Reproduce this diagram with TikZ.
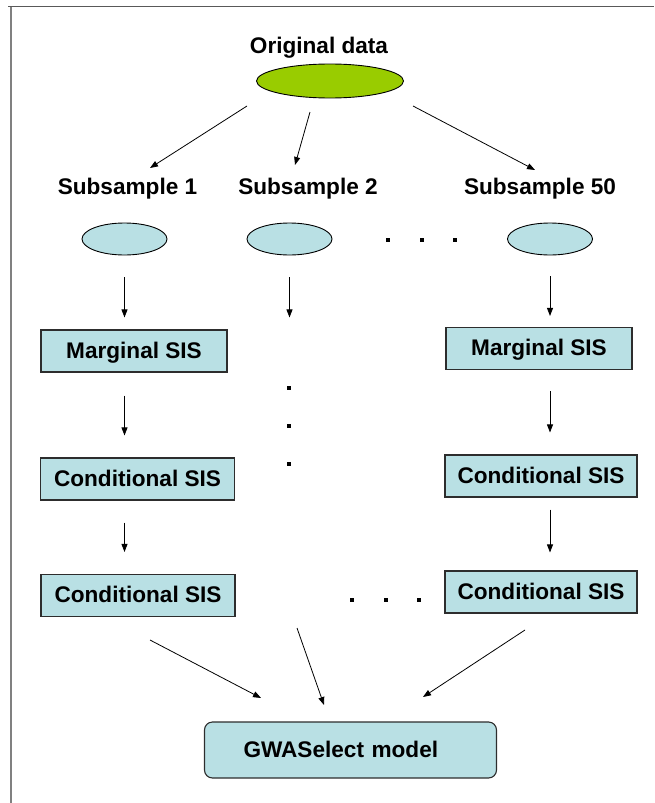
\documentclass[tikz,border=0pt]{standalone}
\usepackage{fontspec}
\setmainfont{Liberation Sans}
\usetikzlibrary{shapes.geometric,arrows.meta}

\definecolor{sisblue}{RGB}{185,224,228}
\definecolor{datagreen}{RGB}{153,204,0}
\definecolor{edgegray}{RGB}{45,45,45}

\tikzset{every picture/.style={line width=0.75pt}}
\tikzset{
  lbl/.style={font=\bfseries\fontsize{22.6}{27}\selectfont, inner sep=0pt},
  sisbox/.style={draw=edgegray, fill=sisblue, line width=1.1pt, inner sep=0pt,
    minimum height=42pt, text height=16pt, text depth=2pt,
    font=\bfseries\fontsize{22.6}{27}\selectfont},
  subell/.style={ellipse, draw=black, fill=sisblue, line width=0.9pt,
    minimum width=85pt, minimum height=32pt, inner sep=0pt},
  arr/.style={-{Triangle[length=8pt,width=6pt]}, line width=0.8pt},
  dot/.style={fill=black, minimum size=4pt, inner sep=0pt},
}

\begin{document}
\begin{tikzpicture}[x=1pt,y=1pt,yscale=-1,xscale=1]
	\useasboundingbox (0,0) rectangle (654,803);

	%Frame lines
	\draw [color=gray!70!black, line width=1.6pt] (8,6.5) -- (654,6.5) ;
	\draw [color=gray, line width=1.6pt] (11,6.5) -- (11,803) ;

	% Text Node
	\node [lbl, anchor=base] (odlab) at (319,53) {Original data};
	%Shape: Ellipse
	\node [ellipse, draw=black, fill=datagreen, line width=0.9pt, minimum width=147pt, minimum height=34pt, inner sep=0pt] (od) at (330,81) {};

	% Text Node
	\node [lbl, anchor=base] (s1lab) at (127.5,194) {Subsample 1};
	% Text Node
	\node [lbl, anchor=base] (s2lab) at (308,194) {Subsample 2};
	% Text Node
	\node [lbl, anchor=base] (s3lab) at (540,194) {Subsample 50};

	%Shape: Ellipse
	\node [subell] (e1) at (124.5,239) {};
	\node [subell] (e2) at (289.5,239) {};
	\node [subell] (e3) at (550,239) {};

	% dots between subsamples
	\node [dot] (d1) at (388,240) {};
	\node [dot] (d2) at (421.5,240) {};
	\node [dot] (d3) at (455,240) {};

	%Boxes
	\node [sisbox, minimum width=186pt] (m1) at (134,351) {Marginal SIS};
	\node [sisbox, minimum width=194pt] (c1) at (137.5,479) {Conditional SIS};
	\node [sisbox, minimum width=194pt] (c2) at (138,595.5) {Conditional SIS};
	\node [sisbox, minimum width=186pt] (m2) at (539,348.5) {Marginal SIS};
	\node [sisbox, minimum width=192pt] (c3) at (541,476) {Conditional SIS};
	\node [sisbox, minimum width=192pt] (c4) at (541,592) {Conditional SIS};

	% vertical dots
	\node [dot] (v1) at (289,388) {};
	\node [dot] (v2) at (289,426) {};
	\node [dot] (v3) at (289,464) {};
	% bottom dots
	\node [dot] (h1) at (352,600) {};
	\node [dot] (h2) at (386,600) {};
	\node [dot] (h3) at (419,600) {};

	%Rounded box
	\node [draw=edgegray, fill=sisblue, line width=1.1pt, rounded corners=8pt, minimum height=56pt, inner xsep=39pt, inner ysep=0pt, text width=214pt, align=left, text height=16pt, text depth=2pt, font=\bfseries\fontsize{22.6}{27}\selectfont] (gws) at (350.5,750) {GWASelect model};

	%Arrow end points
	\coordinate (a1s) at (247,106);
	\coordinate (a1e) at (150,168);
	\coordinate (a2s) at (310,112);
	\coordinate (a2e) at (295,165);
	\coordinate (a3s) at (413,106);
	\coordinate (a3e) at (535,170);
	\coordinate (b1s) at (150,640);
	\coordinate (b1e) at (261,698);
	\coordinate (b2s) at (297,628);
	\coordinate (b2e) at (324,705);
	\coordinate (b3s) at (525,630);
	\coordinate (b3e) at (423,697);

	%Straight Lines
	\draw [arr] (a1s) -- (a1e) ;
	\draw [arr] (a2s) -- (a2e) ;
	\draw [arr] (a3s) -- (a3e) ;
	\draw [arr, shorten <=22pt, shorten >=12pt] (e1) -- (e1 |- m1.north) ;
	\draw [arr, shorten <=22pt, shorten >=12pt] (e2) -- (e2 |- m1.north) ;
	\draw [arr, shorten <=21pt, shorten >=11pt] (e3) -- (e3 |- m2.north) ;
	\draw [arr, shorten <=23pt, shorten >=22pt] (m1.south -| e1) -- (c1.north -| e1) ;
	\draw [arr, shorten <=22pt, shorten >=22pt] (c1.south -| e1) -- (c2.north -| e1) ;
	\draw [arr, shorten <=21pt, shorten >=22pt] (m2.south -| e3) -- (c3.north -| e3) ;
	\draw [arr, shorten <=12pt, shorten >=18pt] (c3.south -| e3) -- (c4.north -| e3) ;
	\draw [arr] (b1s) -- (b1e) ;
	\draw [arr] (b2s) -- (b2e) ;
	\draw [arr] (b3s) -- (b3e) ;

\end{tikzpicture}
\end{document}
